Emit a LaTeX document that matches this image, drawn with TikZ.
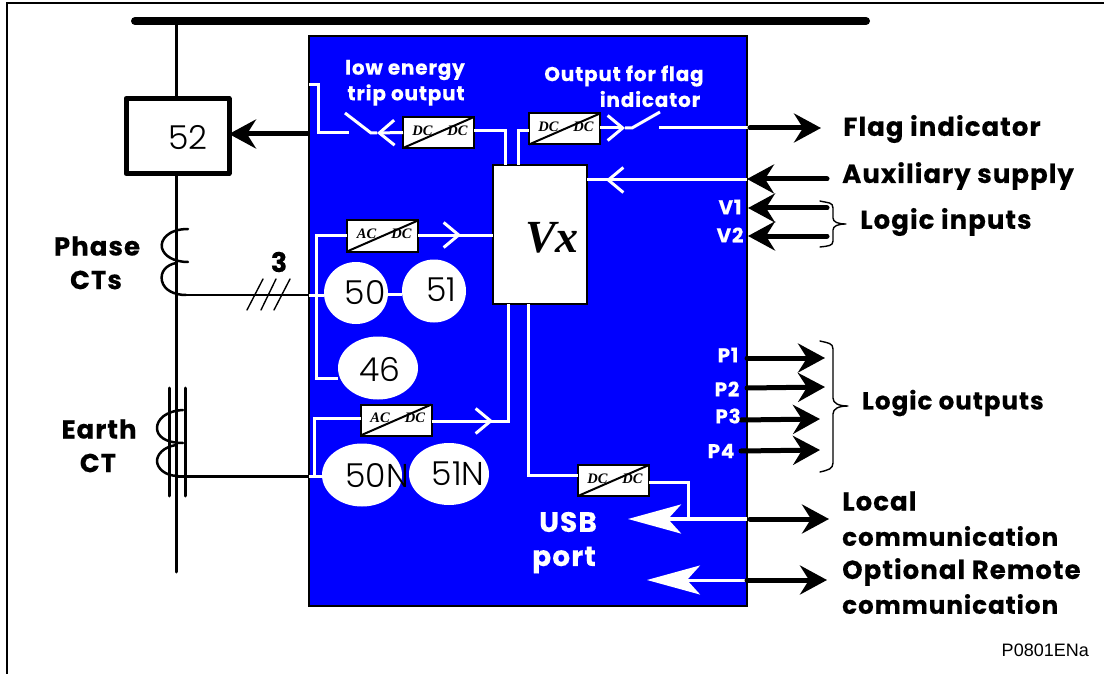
\documentclass[tikz,border=0pt]{standalone}
\usepackage{fontspec}
\usetikzlibrary{arrows.meta,shapes.geometric,calc}
\setmainfont{Poppins}
\newfontfamily\heavy{Poppins}[LetterSpace=4,BoldFeatures={FakeBold=0.35}]
\newfontfamily\numf{Poppins Light}
\newfontfamily\serifbi{Liberation Serif}
\newfontfamily\arialf{Liberation Sans}
\definecolor{relayblue}{RGB}{0,0,255}
\tikzset{
  blk/.style={draw=black,line width=3.5pt},
  wire/.style={draw=white,line width=3pt},
  thinb/.style={draw=black,line width=1.4pt,line cap=round,line join=round},
  chev/.style={-{Straight Barb[length=15pt,width=25pt,line width=3pt,white]}},
  bigout/.style={draw=black,line width=5pt,line cap=round,-{Stealth[length=27pt,width=29pt,inset=9pt]}},
  bigwhite/.style={draw=white,line width=4pt,-{Stealth[length=53pt,width=29pt,inset=13pt,white]}},
  conv/.style={draw=black,fill=white,line width=2pt,minimum width=71pt,minimum height=31pt,inner sep=0pt,outer sep=0pt},
  convtxt/.style={font=\serifbi\bfseries\itshape\fontsize{14.5}{14.5}\selectfont,inner sep=0pt},
  relay/.style={ellipse,fill=white,inner sep=0pt,outer sep=0pt},
  num/.style={font=\numf\fontsize{33}{33}\selectfont,inner sep=0pt},
  lab/.style={font=\heavy\bfseries\fontsize{26}{26}\selectfont,inner sep=0pt,anchor=west,text=black},
  labn/.style={lab,font=\heavy\bfseries\fontsize{24.6}{24.6}\selectfont},
  cen/.style={font=\heavy\bfseries\fontsize{26}{26}\selectfont,inner sep=0pt},
  wlab/.style={font=\heavy\bfseries\fontsize{20}{20}\selectfont,inner sep=0pt,text=white},
}
\newcommand{\convbox}[4]{%
  \node[conv] (#1) at (#2,#3) {};
  \node[convtxt] (#1a) at ($(#1.center)+(-16pt,2pt)$) {#4};
  \node[convtxt] (#1b) at ($(#1.center)+(19pt,2pt)$) {DC};
  \draw[draw=black,line width=2pt] (#1.south west) -- (#1.north east);
}
\begin{document}
\begin{tikzpicture}[x=1pt,y=-1pt]
\useasboundingbox (0,0) rectangle (1104,674);
% frame
\coordinate (fa) at (7,674); \coordinate (fb) at (7,3); \coordinate (fc) at (1104,3);
\draw[black,line width=2.2pt] (fa) -- (fb) -- (fc);
% busbar and line
\coordinate (busl) at (135,21); \coordinate (busr) at (866,21);
\draw[black,line width=8pt,line cap=round] (busl) -- (busr);
\coordinate (buso) at (176,21); \coordinate (lineend) at (176,572);
\node[draw=black,line width=5pt,fill=white,minimum width=103pt,minimum height=75pt,inner sep=0pt,outer sep=0pt,line join=round] (cb) at (177.5,136) {};
\node[num] (cbt) at (188,138) {52};
\draw[blk,line width=3pt] (buso) -- (176,98);
\draw[blk,line width=3pt,line cap=round] (176,174) -- (lineend);
% relay body
\node[draw=black,line width=1.5pt,fill=relayblue,minimum width=438pt,minimum height=570pt,inner sep=0pt,outer sep=0pt] (relaybox) at (528,321) {};
% phase CT
\draw[thinb,line width=2.5pt] (188,229) .. controls (168,229) and (160,240) .. (162,248) .. controls (164,256) and (174,262) .. (188,262);
\draw[thinb,line width=2.5pt] (176,263) .. controls (166,265) and (160,272) .. (162,281) .. controls (164,290) and (174,295) .. (186,295);
\coordinate (phin) at (186,295);
\draw[thinb,line width=2.5pt] (phin) -- (309,295);
\coordinate (t1a) at (247,310); \coordinate (t1b) at (263,279);
\coordinate (t2a) at (261,310); \coordinate (t2b) at (276,279);
\coordinate (t3a) at (274,310); \coordinate (t3b) at (290,279);
\draw[thinb] (t1a) -- (t1b); \draw[thinb] (t2a) -- (t2b); \draw[thinb] (t3a) -- (t3b);
\node[cen,font=\heavy\bfseries\fontsize{27}{27}\selectfont] (three) at (279,262) {3};
\node[cen] (ph) at (97,246) {Phase};
\node[cen] (ct) at (96,280) {CTs};
% earth CT
\draw[thinb,line width=3pt] (169,388) -- (169,496);
\draw[thinb,line width=3pt] (185,388) -- (185,496);
\draw[thinb,line width=2.5pt] (183,410) .. controls (165,411) and (157,420) .. (157,428) .. controls (157,436) and (165,443) .. (183,443);
\draw[thinb,line width=2.5pt] (176,445) .. controls (163,447) and (157,455) .. (157,461) .. controls (157,468) and (165,476) .. (178,476);
\coordinate (ein) at (176,476);
\draw[thinb,line width=3pt] (ein) -- (309,476);
\node[cen] (ea) at (99,429) {Earth};
\node[cen] (ect) at (98,463) {CT};
% Vx
\node[draw=black,line width=1.5pt,fill=white,minimum width=94pt,minimum height=139pt,inner sep=0pt,outer sep=0pt] (vx) at (540,234.5) {};
\node[font=\serifbi\bfseries\itshape\fontsize{46}{46}\selectfont,inner sep=0pt] (vxt) at (552,238) {Vx};
% converters
\convbox{dc1}{438.5}{132.5}{DC}
\convbox{dc2}{564.5}{129}{DC}
\convbox{ac1}{382.5}{236}{AC}
\convbox{ac2}{396}{420}{AC}
\convbox{dc3}{613.5}{480.5}{DC}
% relays
\node[relay,minimum width=64pt,minimum height=62pt] (r50) at (356,293) {};
\node[relay,minimum width=64pt,minimum height=63pt] (r51) at (434,291) {};
\node[relay,minimum width=80pt,minimum height=63pt] (r46) at (378,368) {};
\node[relay,minimum width=80pt,minimum height=63pt] (r50n) at (362,475) {};
\node[relay,minimum width=80pt,minimum height=62pt] (r51n) at (449,474) {};
\node[num] (t50) at (365,293) {50};
\node[num] (t51) at (441,290) {51};
\node[num] (t46) at (380,369) {46};
\node[num] (t50n) at (377,476) {50N};
\node[num] (t51n) at (458,474) {51N};
% trip path
\coordinate (q1) at (309,85); \coordinate (q2) at (318,85); \coordinate (q3) at (318,133);
\coordinate (q4) at (349,133); \coordinate (sw1a) at (345,113); \coordinate (sw1b) at (371,133);
\coordinate (ch1) at (377,133); \coordinate (q5) at (505,131);
\draw[wire] (q1) -- (q2) -- (q3) -- (q4);
\draw[wire] (sw1a) -- (sw1b) -- (ch1);
\draw[wire,chev] (dc1.west) -- (ch1);
\draw[wire] (dc1.east |- q5) -- (q5) -- (q5 |- vx.north);
% flag path
\coordinate (q6) at (518,131); \coordinate (ch2) at (625,128);
\coordinate (sw2a) at (632,128); \coordinate (sw2b) at (660,112);
\coordinate (q7) at (659,128); \coordinate (q8) at (750,128);
\draw[wire] (q6 |- vx.north) -- (q6) -- (q6 -| dc2.west);
\draw[wire,chev] (dc2.east |- ch2) -- (ch2);
\draw[wire] (ch2) -- (sw2a) -- (sw2b);
\draw[wire] (q7) -- (q8);
% aux
\coordinate (ch3) at (606,180); \coordinate (q9) at (747,180);
\draw[wire] (vx.east |- ch3) -- (q9);
\draw[wire,chev] (q9) -- (ch3);
% ac1
\coordinate (ch4) at (461,235); \coordinate (q10) at (316,235); \coordinate (q11) at (316,378);
\draw[wire] (ac1.east |- ch4) -- (vx.west |- ch4);
\draw[wire,chev] (ac1.east |- ch4) -- (ch4);
\draw[wire] (ac1.west |- q10) -- (q10) -- (q11) -- (r46.west |- q11);
\coordinate (q12) at (309,295);
\draw[wire] (q12) -- (r50.west |- q12);
\coordinate (q20) at (394,294);
\draw[wire] (r50.east |- q20) -- (r51.west |- q20);
% ac2
\coordinate (ch5) at (493,421); \coordinate (q13) at (508,421); \coordinate (q14) at (314,418); \coordinate (q15) at (314,476); \coordinate (q16) at (309,476);
\draw[wire] (ac2.east |- ch5) -- (q13) -- (q13 |- vx.south);
\draw[wire,chev] (ac2.east |- ch5) -- (ch5);
\draw[wire] (ac2.west |- q14) -- (q14) -- (q15) -- (r50n.west |- q15);
\draw[wire] (q16) -- (q15);
% usb
\coordinate (q17) at (528,475); \coordinate (q18) at (688,482); \coordinate (q19) at (688,520);
\draw[wire] (q17 |- vx.south) -- (q17) -- (q17 -| dc3.west);
\draw[wire] (dc3.east |- q18) -- (q18) -- (q19);
\coordinate (usbt) at (628,519); \coordinate (remt) at (647,580);
\coordinate (usbo) at (747,519); \coordinate (remo) at (747,580);
\draw[bigwhite] (usbo) -- (usbt);
\draw[bigwhite,line width=3pt] (remo) -- (remt);
% black arrows
\coordinate (flagA) at (750,128); \coordinate (flagB) at (821,128);
\draw[bigout] (flagA) -- (flagB);
\coordinate (auxA) at (827,179); \coordinate (auxB) at (747,179);
\draw[bigout] (auxA) -- (auxB);
\coordinate (v1A) at (827,208); \coordinate (v1B) at (748,208);
\draw[bigout] (v1A) -- (v1B);
\coordinate (v2A) at (827,236); \coordinate (v2B) at (748,236);
\draw[bigout] (v2A) -- (v2B);
\coordinate (p1A) at (747,358); \coordinate (p1B) at (825,358);
\draw[bigout] (p1A) -- (p1B);
\coordinate (p2A) at (747,388); \coordinate (p2B) at (825,387);
\draw[bigout] (p2A) -- (p2B);
\coordinate (p3A) at (741,420); \coordinate (p3B) at (820,419);
\draw[bigout] (p3A) -- (p3B);
\coordinate (p4A) at (741,451); \coordinate (p4B) at (820,450);
\draw[bigout] (p4A) -- (p4B);
\coordinate (locA) at (750,519); \coordinate (locB) at (829,519);
\draw[bigout] (locA) -- (locB);
\coordinate (remA) at (747,580); \coordinate (remB) at (827,580);
\draw[bigout] (remA) -- (remB);
\coordinate (tripA) at (309,134);
\draw[bigout,line cap=butt] (tripA) -- (cb.east |- tripA);
% braces
\draw[thinb] (820,201) .. controls (828,203) and (833,202) .. (833,208) -- (833,218) .. controls (833,222) and (838,224) .. (846,224) .. controls (838,224) and (833,226) .. (833,230) -- (833,241) .. controls (833,246) and (828,246) .. (820,247);
\draw[thinb] (820,341) .. controls (828,343) and (833,343) .. (833,349) -- (833,398) .. controls (833,403) and (838,406) .. (848,406) .. controls (838,406) and (833,409) .. (833,414) -- (833,463) .. controls (833,469) and (828,470) .. (820,472);
% labels
\node[lab] (lflag) at (843,129) {Flag indicator};
\node[lab] (laux) at (842,176) {Auxiliary supply};
\node[lab] (lin) at (860,222) {Logic inputs};
\node[labn] (lout) at (862,403) {Logic outputs};
\node[lab] (lloc) at (842,501) {Local};
\node[labn] (lcom) at (842,536) {communication};
\node[lab] (lopt) at (842,572) {Optional Remote};
\node[labn] (lcom2) at (842,604) {communication};
\node[font=\arialf\fontsize{18}{18}\selectfont,inner sep=0pt,anchor=east] (code) at (1089,650) {P0801ENa};
\node[wlab] (tv1) at (730,207) {V1};
\node[wlab] (tv2) at (730,235) {V2};
\node[wlab] (tp1) at (728,355) {P1};
\node[wlab] (tp2) at (727,389) {P2};
\node[wlab] (tp3) at (728,416) {P3};
\node[wlab] (tp4) at (721,451) {P4};
\node[wlab] (tlow) at (405,70) {low energy};
\node[wlab] (ttrip) at (406,95) {trip output};
\node[wlab] (tout) at (624,76) {Output for flag};
\node[wlab] (tind) at (650,99) {indicator};
\node[wlab,font=\heavy\bfseries\fontsize{28}{28}\selectfont] (tusb) at (568,522) {USB};
\node[wlab,font=\heavy\bfseries\fontsize{28}{28}\selectfont] (tport) at (564,560) {port};
\end{tikzpicture}
\end{document}
